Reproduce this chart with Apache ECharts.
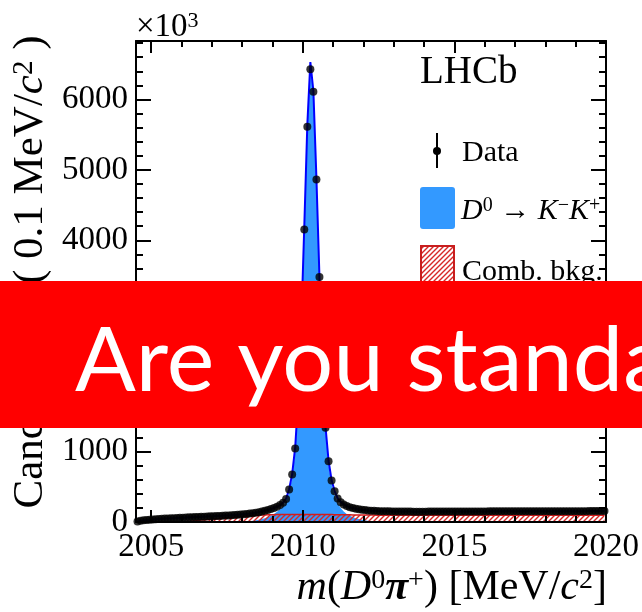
<!DOCTYPE html>
<html>
<head>
<meta charset="utf-8">
<script src="https://cdn.jsdelivr.net/npm/echarts@6/dist/echarts.min.js"></script>
<style>
  html, body { margin: 0; padding: 0; background: #fff; }
  #chart { width: 642px; height: 612px; }
</style>
</head>
<body>
<div id="chart"></div>
<script>
// Binning of m(D0 pi+): 0.1 MeV/c^2 bins from 2004.5 to 2020.0
const BIN_LO = 2004.5;
const BIN_W = 0.1;
const N_BINS = 155;
const binCenters = Array.from({ length: N_BINS }, (_, i) => +(BIN_LO + BIN_W * (i + 0.5)).toFixed(2));

// Candidates per bin (x10^3)
const candidates = [
  8, 18, 24, 29, 33, 36, 39, 42, 45, 48,
  50, 53, 55, 57, 59, 61, 63, 66, 68, 70,
  72, 74, 76, 78, 80, 82, 84, 86, 88, 91,
  94, 97, 100, 103, 106, 110, 114, 119, 125, 132,
  140, 149, 159, 171, 184, 199, 218, 240, 272, 325,
  460, 675, 1042, 1750, 2800, 4153, 5611, 6430, 6108, 4864,
  3480, 2230, 1338, 862, 590, 436, 332, 280, 248, 226,
  210, 198, 188, 180, 174, 169, 165, 161, 158, 156,
  154, 153, 152, 151, 150, 149, 149, 148, 148, 148,
  148, 147, 147, 147, 147, 147, 148, 148, 148, 148,
  148, 148, 148, 149, 149, 149, 149, 149, 149, 150,
  150, 150, 150, 150, 150, 150, 151, 151, 151, 151,
  151, 151, 151, 151, 152, 152, 152, 152, 152, 152,
  152, 152, 153, 153, 153, 153, 153, 153, 153, 153,
  153, 154, 154, 154, 154, 154, 154, 154, 154, 155,
  155, 155, 155, 155, 155
];

// Total fit at the bin centres
const fitTotal = [
  8, 18, 24, 29, 33, 36, 39, 42, 45, 48,
  50, 53, 55, 57, 59, 61, 63, 66, 68, 70,
  72, 74, 76, 78, 80, 82, 84, 86, 88, 91,
  94, 97, 100, 103, 106, 110, 114, 119, 125, 132,
  140, 149, 159, 171, 184, 199, 218, 240, 274, 330,
  465, 680, 1060, 1760, 2820, 4200, 5640, 6530, 6120, 4880,
  3480, 2240, 1350, 870, 595, 440, 335, 282, 249, 226,
  210, 198, 188, 180, 174, 169, 165, 161, 158, 156,
  154, 153, 152, 151, 150, 149, 149, 148, 148, 148,
  148, 147, 147, 147, 147, 147, 148, 148, 148, 148,
  148, 148, 148, 149, 149, 149, 149, 149, 149, 150,
  150, 150, 150, 150, 150, 150, 151, 151, 151, 151,
  151, 151, 151, 151, 152, 152, 152, 152, 152, 152,
  152, 152, 153, 153, 153, 153, 153, 153, 153, 153,
  153, 154, 154, 154, 154, 154, 154, 154, 154, 155,
  155, 155, 155, 155, 155
];

// D0 -> K- K+ signal component
const signalKK = [
  0, 0, 0, 0, 0, 0, 0, 0, 0, 0,
  0, 0, 0, 0, 0, 0, 0, 0, 0, 0,
  0, 0, 0, 0, 0, 0, 0, 0, 0, 0,
  0, 0, 0, 0, 0, 5, 8, 12, 18, 25,
  33, 42, 55, 70, 90, 115, 145, 180, 225, 290,
  420, 630, 990, 1680, 2750, 4100, 5560, 6470, 6060, 4800,
  3440, 2200, 1290, 810, 540, 380, 270, 200, 150, 115,
  90, 70, 55, 42, 32, 24, 18, 13, 9, 6,
  4, 2, 1, 0, 0, 0, 0, 0, 0, 0,
  0, 0, 0, 0, 0, 0, 0, 0, 0, 0,
  0, 0, 0, 0, 0, 0, 0, 0, 0, 0,
  0, 0, 0, 0, 0, 0, 0, 0, 0, 0,
  0, 0, 0, 0, 0, 0, 0, 0, 0, 0,
  0, 0, 0, 0, 0, 0, 0, 0, 0, 0,
  0, 0, 0, 0, 0, 0, 0, 0, 0, 0,
  0, 0, 0, 0, 0
];

// Combinatorial background component
const combBkg = [
  0, 0, 0, 0, 0, 0, 0, 0, 0, 0,
  0, 0, 0, 0, 0, 3, 7, 11, 15, 19,
  23, 27, 31, 35, 39, 43, 47, 51, 55, 59,
  63, 67, 71, 75, 79, 83, 86, 89, 92, 95,
  97, 99, 101, 102, 103, 104, 105, 105, 105, 105,
  105, 105, 105, 105, 105, 105, 105, 105, 105, 105,
  105, 105, 105, 105, 105, 104, 104, 103, 103, 102,
  102, 101, 101, 100, 100, 99, 99, 98, 98, 97,
  97, 97, 96, 96, 96, 96, 96, 95, 95, 95,
  95, 95, 95, 95, 95, 95, 95, 95, 95, 95,
  95, 95, 95, 95, 95, 95, 95, 95, 95, 95,
  95, 95, 95, 95, 95, 95, 95, 95, 95, 95,
  95, 95, 95, 95, 95, 95, 95, 95, 95, 95,
  95, 95, 95, 95, 95, 95, 95, 95, 95, 95,
  95, 95, 95, 95, 95, 95, 95, 95, 95, 95,
  95, 95, 95, 95, 95
];

// Axis ticks
const xMajor = [2005, 2010, 2015, 2020];
const xMinor = [2006, 2007, 2008, 2009, 2011, 2012, 2013, 2014, 2016, 2017, 2018, 2019];
const yMajor = [0, 1000, 2000, 3000, 4000, 5000, 6000];
const yMinor = [200, 400, 600, 800, 1200, 1400, 1600, 1800, 2200, 2400, 2600, 2800,
  3200, 3400, 3600, 3800, 4200, 4400, 4600, 4800, 5200, 5400, 5600, 5800,
  6200, 6400, 6600, 6800];

const X_MIN = 2004.5, X_MAX = 2020;
const Y_MIN = 0, Y_MAX = 6830;

const SERIF = '"Liberation Serif", "Times New Roman", serif';

// Red diagonal hatching (transparent between the strokes)
function makeHatch(color, size, width) {
  const c = document.createElement('canvas');
  c.width = size; c.height = size;
  const g = c.getContext('2d');
  g.strokeStyle = color;
  g.lineWidth = width;
  g.beginPath();
  g.moveTo(0, size); g.lineTo(size, 0);
  g.moveTo(-1, 1); g.lineTo(1, -1);
  g.moveTo(size - 1, size + 1); g.lineTo(size + 1, size - 1);
  g.stroke();
  return c;
}
const hatch = makeHatch('#d62828', 5, 1.4);

const plain = (v) => String(v);

function xAxis(position, ticks, len, withLine, withLabels) {
  return {
    type: 'value', position, min: X_MIN, max: X_MAX, z: 5,
    splitLine: { show: false },
    axisLine: { show: withLine, onZero: false, lineStyle: { color: '#000', width: 2 } },
    axisTick: { show: true, inside: true, length: len, customValues: ticks,
      lineStyle: { color: '#000', width: 2 } },
    axisLabel: withLabels ? {
      show: true, customValues: ticks, margin: 9, color: '#000', formatter: plain,
      fontFamily: SERIF, fontSize: 33
    } : { show: false }
  };
}
function yAxis(position, ticks, len, withLine, withLabels) {
  return {
    type: 'value', position, min: Y_MIN, max: Y_MAX, z: 5,
    splitLine: { show: false },
    axisLine: { show: withLine, onZero: false, lineStyle: { color: '#000', width: 2 } },
    axisTick: { show: true, inside: true, length: len, customValues: ticks,
      lineStyle: { color: '#000', width: 2 } },
    axisLabel: withLabels ? {
      show: true, customValues: ticks, margin: 8, color: '#000', formatter: plain,
      fontFamily: SERIF, fontSize: 33
    } : { show: false }
  };
}

const pairs = (vals) => binCenters.map((x, i) => [x, vals[i]]);

const chart = echarts.init(document.getElementById('chart'), null, { renderer: 'canvas' });

const richMath = {
  r: { fontFamily: SERIF, fontSize: 30, color: '#000' },
  i: { fontFamily: SERIF, fontSize: 30, fontStyle: 'italic', color: '#000' },
  s: { fontFamily: SERIF, fontSize: 20, color: '#000', verticalAlign: 'top' }
};

chart.setOption({
  animation: false,
  backgroundColor: '#fff',
  grid: { left: 136, top: 41, width: 471, height: 481, show: false },
  xAxis: [
    xAxis('bottom', xMajor, 12, true, true),
    xAxis('bottom', xMinor, 6, false, false),
    xAxis('top', xMajor, 12, true, false),
    xAxis('top', xMinor, 6, false, false)
  ],
  yAxis: [
    yAxis('left', yMajor, 15, true, true),
    yAxis('left', yMinor, 7, false, false),
    yAxis('right', yMajor, 15, true, false),
    yAxis('right', yMinor, 7, false, false)
  ],
  series: [
    {
      name: 'D0 -> K- K+', type: 'line', data: pairs(signalKK),
      showSymbol: false, z: 2, silent: true,
      lineStyle: { width: 0, opacity: 0 },
      areaStyle: { color: '#3399ff', opacity: 1 }
    },
    {
      name: 'Comb. bkg.', type: 'line', data: pairs(combBkg),
      showSymbol: false, z: 3, silent: true,
      lineStyle: { color: '#d01c1c', width: 1.5 },
      areaStyle: { color: { image: hatch, repeat: 'repeat' }, opacity: 1 }
    },
    {
      name: 'Fit', type: 'line', data: pairs(fitTotal),
      showSymbol: false, z: 4, silent: true,
      lineStyle: { color: '#0000ff', width: 2 }
    },
    {
      name: 'Data', type: 'scatter', data: pairs(candidates),
      symbol: 'circle', symbolSize: 8, z: 6, silent: true,
      itemStyle: { color: '#000' }
    }
  ],
  graphic: { elements: [
    // exponent of the y axis
    { type: 'text', x: 136, y: 27, z: 10, style: {
      text: '{r|×10}{s|3}', verticalAlign: 'middle',
      rich: { r: { fontFamily: SERIF, fontSize: 33, color: '#000' },
              s: { fontFamily: SERIF, fontSize: 22, color: '#000', verticalAlign: 'top' } } } },
    // y axis title
    { type: 'text', x: 31, y: 272, rotation: Math.PI / 2, z: 10, style: {
      text: '{r|Candidates / ( 0.1 MeV/}{i|c}{s|2}{r| )}', align: 'center', verticalAlign: 'middle',
      rich: { r: { fontFamily: SERIF, fontSize: 43, color: '#000' },
              i: { fontFamily: SERIF, fontSize: 43, fontStyle: 'italic', color: '#000' },
              s: { fontFamily: SERIF, fontSize: 29, color: '#000', verticalAlign: 'top' } } } },
    // x axis title
    { type: 'text', x: 607, y: 588, z: 10, style: {
      text: '{i|m}{r|(}{i|D}{s|0}{p|π}{s|+}{r|) [MeV/}{i|c}{s|2}{r|]}', align: 'right', verticalAlign: 'middle',
      rich: { r: { fontFamily: SERIF, fontSize: 42, color: '#000' },
              i: { fontFamily: SERIF, fontSize: 42, fontStyle: 'italic', color: '#000' },
              p: { fontFamily: SERIF, fontSize: 42, fontStyle: 'italic', fontWeight: 'bold', color: '#000' },
              s: { fontFamily: SERIF, fontSize: 28, color: '#000', verticalAlign: 'top' } } } },
    // experiment label
    { type: 'text', x: 420, y: 73, z: 10, style: {
      text: 'LHCb', verticalAlign: 'middle', fontFamily: SERIF, fontSize: 39, fill: '#000' } },
    // legend: data marker
    { type: 'line', z: 10, shape: { x1: 437, y1: 133, x2: 437, y2: 168 },
      style: { stroke: '#000', lineWidth: 2 } },
    { type: 'circle', z: 10, shape: { cx: 437, cy: 151, r: 4 }, style: { fill: '#000' } },
    { type: 'text', x: 462, y: 153, z: 10, style: {
      text: 'Data', verticalAlign: 'middle', fontFamily: SERIF, fontSize: 30, fill: '#000' } },
    // legend: signal
    { type: 'rect', z: 10, shape: { x: 420, y: 187, width: 35, height: 42, r: 3 },
      style: { fill: '#3399ff' } },
    { type: 'text', x: 461, y: 211, z: 10, style: {
      text: '{i|D}{s|0}{r| → }{i|K}{s|−}{i|K}{s|+}', verticalAlign: 'middle', rich: richMath } },
    // legend: combinatorial background
    { type: 'rect', z: 10, shape: { x: 421, y: 246, width: 33, height: 44 },
      style: { fill: '#fff', stroke: '#c81e1e', lineWidth: 2 } },
    { type: 'rect', z: 11, shape: { x: 422, y: 247, width: 31, height: 42 },
      style: { fill: { image: hatch, repeat: 'repeat' } } },
    { type: 'text', x: 462, y: 272, z: 10, style: {
      text: 'Comb. bkg.', verticalAlign: 'middle', fontFamily: SERIF, fontSize: 30, fill: '#000' } },
    // banner across the middle
    { type: 'rect', z: 100, shape: { x: 0, y: 281, width: 642, height: 147 },
      style: { fill: '#ff0000' } },
    { type: 'text', x: 75, y: 362, z: 101, style: {
      text: 'Are you standard', verticalAlign: 'middle',
      fontFamily: 'Lato, "Open Sans", sans-serif', fontSize: 90, fill: '#fff' } }
  ] }
});
</script>
</body>
</html>
